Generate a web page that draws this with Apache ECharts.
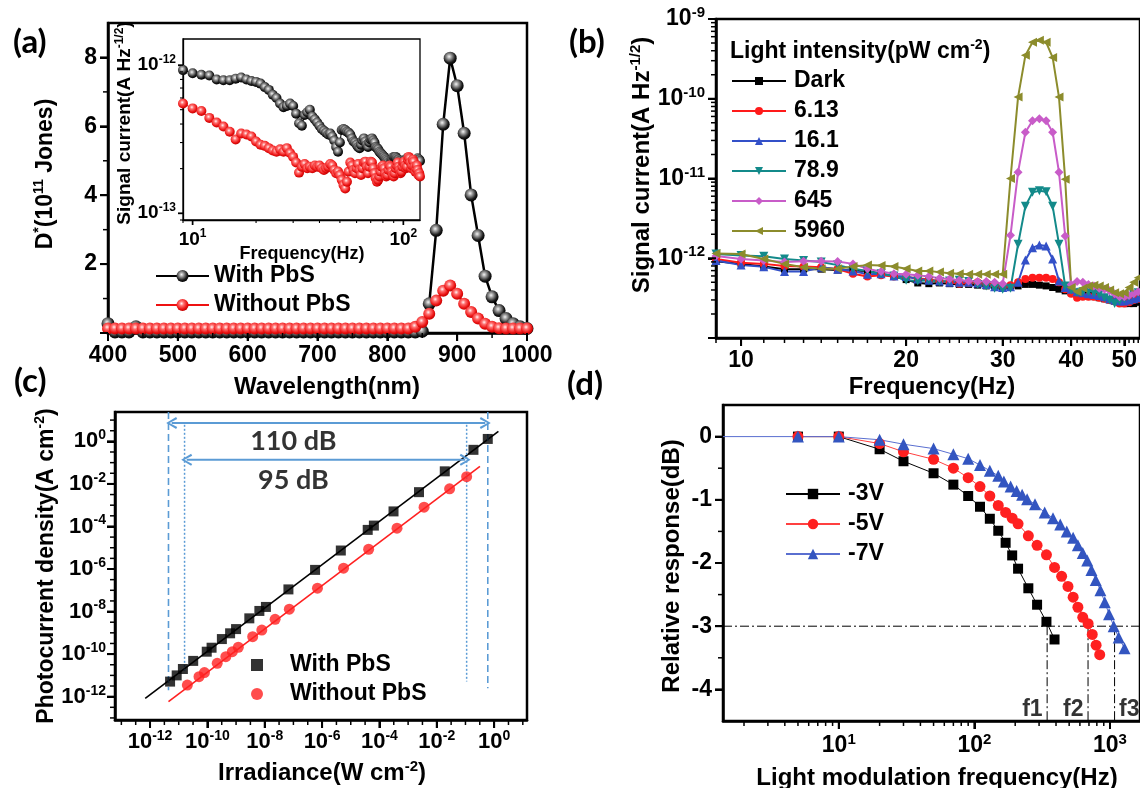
<!DOCTYPE html>
<html>
<head>
<meta charset="utf-8">
<title>PbS photodetector figure</title>
<script src="https://cdn.jsdelivr.net/npm/echarts@6.0.0/dist/echarts.min.js"></script>
<style>
  html, body { margin: 0; padding: 0; background: #fff; }
  #chart-container { position: relative; width: 1140px; height: 788px; background: #fff; }
  .layer { position: absolute; left: 0; top: 0; width: 1140px; height: 788px; }
</style>
</head>
<body>
<div id="chart-container"></div>
<script>
// ---------- (a) detectivity spectra ----------
const wavelength = [
  400, 410, 420, 430, 440, 450, 460, 470, 480, 490,
  500, 510, 520, 530, 540, 550, 560, 570, 580, 590,
  600, 610, 620, 630, 640, 650, 660, 670, 680, 690,
  700, 710, 720, 730, 740, 750, 760, 770, 780, 790,
  800, 810, 820, 830, 840, 850, 860, 870, 880, 890,
  900, 910, 920, 930, 940, 950, 960, 970, 980, 990, 1000
];
// D* in 1e11 Jones
const dWithPbS = [
  0.27, 0.03, 0.03, 0.03, 0.18, 0.03, 0.03, 0.03, 0.03, 0.03,
  0.03, 0.03, 0.03, 0.03, 0.03, 0.03, 0.03, 0.03, 0.03, 0.03,
  0.03, 0.03, 0.03, 0.03, 0.03, 0.03, 0.03, 0.03, 0.03, 0.03,
  0.03, 0.03, 0.03, 0.03, 0.03, 0.03, 0.03, 0.03, 0.03, 0.03,
  0.03, 0.03, 0.03, 0.03, 0.03, 0.05, 0.85, 2.98, 6.06, 7.98,
  7.18, 5.8, 4.01, 2.83, 1.65, 1.05, 0.65, 0.42, 0.27, 0.18, 0.13
];
const dWithoutPbS = [
  0.13, 0.13, 0.13, 0.13, 0.13, 0.13, 0.13, 0.13, 0.13, 0.13,
  0.13, 0.13, 0.13, 0.13, 0.13, 0.13, 0.13, 0.13, 0.13, 0.13,
  0.13, 0.13, 0.13, 0.13, 0.13, 0.13, 0.13, 0.13, 0.13, 0.13,
  0.13, 0.13, 0.13, 0.13, 0.13, 0.13, 0.13, 0.13, 0.13, 0.13,
  0.13, 0.13, 0.13, 0.13, 0.18, 0.32, 0.56, 0.94, 1.23, 1.38,
  1.14, 0.85, 0.61, 0.42, 0.27, 0.18, 0.14, 0.13, 0.13, 0.13, 0.13
];
const aXTicks = [400, 500, 600, 700, 800, 900, 1000];
const aXMinor = [450, 550, 650, 750, 850, 950];
const aYTicks = [0, 2, 4, 6, 8];
const aYLabels = [2, 4, 6, 8];
const aYMinor = [1, 3, 5, 7];

// ---------- (a) inset: noise current ----------
const insetFreq = [
  9, 10, 11, 12, 13, 14, 15, 16, 17, 18, 19, 20,
  21, 22, 23, 24, 25, 26, 27, 28, 29, 30,
  31, 32, 33, 34, 35, 36, 37, 38, 39, 40,
  41, 42, 43, 44, 45, 46, 47, 48, 49, 50,
  51, 52, 53, 54, 55, 56, 57, 58, 59, 60,
  61, 62, 63, 64, 65, 66, 67, 68, 69, 70,
  71, 72, 73, 74, 75, 76, 77, 78, 79, 80,
  81, 82, 83, 84, 85, 86, 87, 88, 89, 90,
  91, 92, 93, 94, 95, 96, 97, 98, 99, 100,
  101, 102, 103, 104, 105, 106, 107, 108, 109, 110,
  111, 112, 113, 114, 115, 116, 117, 118, 119, 120
];
// signal current in 1e-13 A Hz^-1/2
const insetWithPbS = [
  9.25, 8.8, 8.6, 8.5, 8.0, 7.9, 7.9, 8.1, 8.25, 8.0, 7.8, 7.7,
  7.5, 7.1, 6.8, 6.3, 6.0, 5.5, 5.2, 5.3, 5.5, 5.3,
  4.7, 4.05, 3.9, 4.6, 4.8, 5.0, 4.5, 4.3, 4.1, 3.9,
  3.7, 3.6, 3.5, 3.4, 3.45, 3.3, 3.1, 2.8, 2.6, 3.0,
  3.65, 3.7, 3.65, 3.55, 3.5, 3.4, 3.2, 3.05, 3.0, 2.9,
  2.8, 2.75, 2.9, 3.1, 3.2, 3.05, 2.9, 2.8, 3.0, 3.15,
  3.2, 3.1, 3.0, 2.8, 2.75, 2.7, 2.6, 2.55, 2.5, 2.45,
  2.4, 2.35, 2.3, 2.25, 2.2, 2.1, 2.2, 2.3, 2.3, 2.4,
  2.4, 2.4, 2.35, 2.3, 2.3, 2.25, 2.25, 2.2, 2.2, 2.2,
  2.25, 2.3, 2.3, 2.35, 2.3, 2.3, 2.25, 2.25, 2.2, 2.2,
  2.15, 2.1, 2.2, 2.25, 2.3, 2.3, 2.35, 2.3, 2.3, 2.25
];
const insetWithoutPbS = [
  5.5, 5.1, 4.9, 4.4, 4.1, 3.85, 3.55, 3.15, 3.45, 3.4, 3.3, 3.05,
  2.9, 2.85, 2.75, 2.65, 2.6, 2.7, 2.6, 2.75, 2.55, 2.4,
  2.2, 1.88, 2.06, 2.15, 2.01, 2.06, 2.01, 2.1, 2.06, 2.1,
  2.01, 1.96, 2.01, 2.06, 2.15, 2.1, 1.96, 1.86, 1.91, 1.81,
  1.68, 1.55, 1.47, 1.63, 1.91, 2.2, 2.1, 1.96, 1.86, 2.01,
  2.15, 1.96, 1.81, 2.01, 2.2, 2.23, 2.06, 1.86, 2.06, 2.23,
  2.2, 2.01, 1.86, 1.72, 1.63, 1.68, 1.77, 1.91, 2.06, 2.1,
  2.01, 1.86, 1.77, 1.81, 1.96, 2.1, 2.06, 1.91, 1.81, 1.77,
  1.86, 2.01, 2.1, 2.2, 2.06, 1.96, 1.86, 1.91, 2.06, 2.2,
  2.23, 2.1, 2.01, 2.06, 2.3, 2.4, 2.35, 2.2, 2.01, 2.1,
  2.3, 2.23, 2.06, 1.91, 2.01, 2.1, 1.96, 1.81, 1.86, 1.77
];
const insetXTicks = [10, 100];
const insetYTicks = [1e-13, 1e-12];

// ---------- (b) signal current vs frequency ----------
const bFreq = [
  9, 10, 11, 12, 13, 14, 15, 16, 17, 18, 19, 20,
  21, 22, 23, 24, 25, 26, 27, 28, 29, 30,
  31, 32, 33, 34, 35, 36, 37, 38, 39, 40,
  41, 42, 43, 44, 45, 46, 47, 48, 49, 50,
  51, 52, 53, 54, 55
];
// signal current in 1e-12 A Hz^-1/2
const bDark = [
  0.92, 0.85, 0.79, 0.73, 0.73, 0.73, 0.71, 0.70, 0.69, 0.64, 0.59, 0.54,
  0.49, 0.48, 0.49, 0.48, 0.47, 0.47, 0.46, 0.45, 0.45, 0.44,
  0.44, 0.45, 0.47, 0.47, 0.46, 0.45, 0.43, 0.41, 0.39, 0.37,
  0.35, 0.34, 0.34, 0.33, 0.32, 0.31, 0.30, 0.29, 0.28, 0.27,
  0.27, 0.27, 0.28, 0.28, 0.29
];
const b613 = [
  0.98, 0.88, 0.85, 0.80, 0.79, 0.77, 0.73, 0.64, 0.59, 0.61, 0.59, 0.58,
  0.56, 0.54, 0.52, 0.50, 0.48, 0.49, 0.50, 0.49, 0.47, 0.45,
  0.46, 0.50, 0.55, 0.57, 0.57, 0.57, 0.55, 0.50, 0.41, 0.36,
  0.32, 0.33, 0.33, 0.33, 0.32, 0.31, 0.30, 0.29, 0.27, 0.27,
  0.28, 0.30, 0.31, 0.32, 0.33
];
const b161 = [
  0.94, 0.82, 0.78, 0.68, 0.68, 0.77, 0.73, 0.69, 0.63, 0.64, 0.60, 0.59,
  0.55, 0.53, 0.52, 0.50, 0.50, 0.50, 0.49, 0.47, 0.44, 0.43,
  0.44, 0.50, 0.95, 1.35, 1.47, 1.42, 0.98, 0.52, 0.43, 0.41,
  0.38, 0.37, 0.36, 0.35, 0.34, 0.33, 0.31, 0.30, 0.29, 0.29,
  0.30, 0.31, 0.32, 0.33, 0.34
];
const b789 = [
  1.13, 1.08, 1.06, 0.98, 0.94, 0.90, 0.82, 0.74, 0.69, 0.64, 0.60, 0.53,
  0.52, 0.53, 0.51, 0.52, 0.53, 0.51, 0.47, 0.45, 0.42, 0.41,
  0.42, 1.5, 4.5, 6.7, 7.0, 6.8, 4.5, 1.5, 0.45, 0.40,
  0.37, 0.38, 0.38, 0.37, 0.35, 0.32, 0.30, 0.27, 0.29, 0.31,
  0.33, 0.35, 0.37, 0.38, 0.39
];
const b645 = [
  1.07, 0.98, 0.94, 0.90, 0.92, 0.92, 0.91, 0.85, 0.74, 0.68, 0.64, 0.63,
  0.61, 0.59, 0.56, 0.55, 0.53, 0.52, 0.51, 0.51, 0.50, 0.48,
  1.94, 12, 38, 53, 56, 53, 38, 12, 1.9, 0.47,
  0.51, 0.50, 0.47, 0.45, 0.42, 0.41, 0.39, 0.36, 0.33, 0.33,
  0.34, 0.36, 0.38, 0.40, 0.42
];
const b5960 = [
  1.15, 1.13, 0.98, 0.85, 0.77, 0.74, 0.74, 0.79, 0.82, 0.81, 0.79, 0.74,
  0.69, 0.69, 0.67, 0.65, 0.64, 0.63, 0.63, 0.63, 0.63, 0.63,
  10, 105, 350, 510, 540, 510, 330, 105, 9.8, 0.43,
  0.38, 0.42, 0.45, 0.46, 0.45, 0.43, 0.40, 0.37, 0.36, 0.37,
  0.43, 0.50, 0.57, 0.63, 0.68
];
const bNames = ['Dark', '6.13', '16.1', '78.9', '645', '5960'];
const bXTicks = [10, 20, 30, 40, 50];
const bYTicks = [1e-13, 1e-12, 1e-11, 1e-10, 1e-9];
const bYLabels = [1e-12, 1e-11, 1e-10, 1e-9];

// ---------- (c) photocurrent density vs irradiance ----------
const cWithIrr = [5e-12, 8.5e-12, 1.4e-11, 3.2e-11, 9.5e-11, 1.4e-10, 3.2e-10, 6.2e-10, 1e-9, 2.9e-9, 6.5e-9,
  1.1e-8, 6.7e-8, 5.7e-7, 4.5e-6, 3.9e-5, 6.4e-5, 3.1e-4, 2.4e-3, 0.019, 0.19, 0.6];
const cWithJ = [5.1e-12, 1.0e-11, 2.0e-11, 4.8e-11, 1.3e-10, 2.0e-10, 5.1e-10, 9.5e-10, 1.5e-9, 4.8e-9, 1.07e-8,
  1.65e-8, 1.1e-7, 9.1e-7, 7.4e-6, 6.9e-5, 1.1e-4, 5.1e-4, 4.1e-3, 0.039, 0.40, 1.3];
const cWithoutIrr = [2.0e-11, 5.1e-11, 7.9e-11, 2.2e-10, 4.4e-10, 7.4e-10, 1.2e-9, 3.8e-9, 7.9e-9, 2.3e-8,
  7.2e-8, 6.9e-7, 5.6e-6, 4.2e-5, 4.1e-4, 3.6e-3, 0.028, 0.11];
const cWithoutJ = [3.5e-12, 8.7e-12, 1.35e-11, 3.7e-11, 7.6e-11, 1.3e-10, 2.1e-10, 6.6e-10, 1.35e-9, 4.3e-9,
  1.3e-8, 1.25e-7, 1.1e-6, 8.5e-6, 8.3e-5, 8.1e-4, 5.9e-3, 0.022];
const cFitWithIrr = [6.8e-13, 1.41];
const cFitWithJ = [8.3e-13, 2.95];
const cFitWithoutIrr = [4.4e-12, 0.32];
const cFitWithoutJ = [5.8e-13, 0.066];
// dynamic range markers: [irradiance, top J, bottom J]
const cDashed = [[4.4e-12, 24, 2.0e-12], [0.6, 24, 2.5e-12]];
const cDotted = [[1.6e-11, 6, 1.5e-11], [0.11, 6, 5.2e-12]];
// arrows: [left irradiance, right irradiance, J level]
const cArrows = [[5.7e-12, 0.49, 7.3], [1.9e-11, 0.098, 0.136]];
const cRangeText = [['110 dB', 1e-7, 1.0], ['95 dB', 1e-7, 0.0155]];
const cTicks = [1e-12, 1e-10, 1e-8, 1e-6, 1e-4, 1e-2, 1];

// ---------- (d) frequency response ----------
const d3VFreq = [5, 10, 20, 30, 50, 70, 90, 110, 130, 150, 170, 190, 210, 250, 290, 340, 390];
const d3VResp = [0, 0, -0.2, -0.39, -0.58, -0.76, -0.94, -1.11, -1.30, -1.49, -1.68, -1.88, -2.09, -2.40, -2.66, -2.93, -3.21];
const d5VFreq = [5, 10, 20, 30, 50, 70, 90, 110, 130, 150, 170, 190, 210, 250, 290, 340, 390, 440, 490, 535, 580,
  630, 690, 740, 790, 840];
const d5VResp = [0, 0, -0.11, -0.24, -0.36, -0.50, -0.65, -0.79, -0.94, -1.09, -1.20, -1.29, -1.38, -1.57, -1.72,
  -1.87, -2.07, -2.21, -2.37, -2.54, -2.70, -2.86, -2.96, -3.13, -3.30, -3.45];
const d7VFreq = [5, 10, 20, 30, 50, 70, 90, 110, 130, 150, 165, 185, 205, 225, 245, 280, 330, 380, 430, 480, 535,
  580, 630, 680, 730, 785, 850, 915, 985, 1065, 1160, 1280];
const d7VResp = [0, 0, -0.05, -0.12, -0.19, -0.28, -0.35, -0.45, -0.54, -0.62, -0.71, -0.79, -0.86, -0.92, -0.99,
  -1.07, -1.20, -1.29, -1.39, -1.50, -1.60, -1.72, -1.84, -1.96, -2.11, -2.27, -2.43, -2.62, -2.81, -3.0, -3.18, -3.35];
const dBaseFreq = [1.4, 5];
const dBaseResp = [0, 0];
const dCutLevel = -3;
const dCutFreq = [344, 689, 1081];
const dCutName = ['f1', 'f2', 'f3'];
const dXTicks = [10, 100, 1000];
const dYTicks = [-4, -3, -2, -1, 0];
const dYMinor = [-3.5, -2.5, -1.5, -0.5];

// ---------- helpers ----------
const FONT = '"Liberation Sans", Arial, Helvetica, sans-serif';
const NARROW = '"Liberation Sans Narrow", "Liberation Sans", Arial, sans-serif';
const CAL = 'Lato, "Open Sans", sans-serif';
const BLUE = '#5b9bd5';

function pairs(xs, ys, k) {
  return xs.map((x, i) => [x, ys[i] * (k || 1)]);
}
function logMinor(e0, e1) {
  const out = [];
  for (let e = e0; e < e1; e++) for (let k = 2; k < 10; k++) out.push(+(k + 'e' + e));
  return out;
}
function powLabel(v) {
  return '{b|10}{s|' + Math.round(Math.log10(v)) + '}';
}
function tickRich(size) {
  return {
    b: { fontSize: size, fontWeight: 'bold', fontFamily: FONT, color: '#000', lineHeight: size + 4 },
    s: { fontSize: Math.round(size * 0.64), fontWeight: 'bold', fontFamily: FONT, color: '#000',
         lineHeight: Math.round(size * 0.5), verticalAlign: 'top' }
  };
}
function titleRich(size) {
  return {
    t: { fontSize: size, fontWeight: 'bold', fontFamily: FONT, fill: '#000', lineHeight: size + 4 },
    s: { fontSize: Math.round(size * 0.62), fontWeight: 'bold', fontFamily: FONT, fill: '#000',
         lineHeight: Math.round(size * 0.5), verticalAlign: 'top' }
  };
}
function plain(extra) {
  return Object.assign({ silent: true, emphasis: { disabled: true }, animation: false }, extra);
}

// every panel is drawn by its own chart instance; the four canvases are stacked on the page
function newPanel() {
  return { grid: [], xAxis: [], yAxis: [], series: [], ticks: [], legend: [], graphic: [] };
}
const pA = newPanel(), pB = newPanel(), pC = newPanel(), pD = newPanel();

function addGrid(P, g, bw) {
  P.grid.push(Object.assign({ show: true, borderColor: '#000', borderWidth: bw,
    outerBoundsMode: 'none', containLabel: false }, g));
  return P.grid.length - 1;
}
// axis carrying the frame line, the major ticks and the numeric labels
function axis(P, key, grid, scale, o) {
  P[key].push(Object.assign({
    gridIndex: grid, position: key === 'xAxis' ? 'bottom' : 'left',
    splitLine: { show: false },
    axisLine: { show: true, onZero: false, lineStyle: { color: '#000', width: o.lw || 2.5 } },
    axisTick: { show: true, inside: false, length: o.len || 8, customValues: o.ticks,
                lineStyle: { color: '#000', width: o.tw || 2 } },
    axisLabel: {
      show: true, customValues: o.labels, margin: o.margin, formatter: o.fmt || (v => String(v)), rich: o.rich,
      fontSize: o.fs, fontWeight: 'bold', fontFamily: FONT, color: '#000'
    }
  }, scale));
  return P[key].length - 1;
}
// outward tick marks (major and minor), placed through the axes' own coordinate mapping
function tickMarks(P, xi, yi, sx, sy, dim, values, len, w) {
  const sc = dim === 'x' ? sx : sy;
  const inside = values.filter(v => v >= sc.min && v <= sc.max);
  P.ticks.push(plain({
    type: 'custom', xAxisIndex: xi, yAxisIndex: yi, clip: false, z: 10,
    data: inside.map(v => (dim === 'x' ? [v, sy.min] : [sx.min, v])),
    renderItem: (params, api) => {
      const p = api.coord([api.value(0), api.value(1)]);
      const shape = dim === 'x'
        ? { x1: p[0], y1: p[1], x2: p[0], y2: p[1] + len }
        : { x1: p[0], y1: p[1], x2: p[0] - len, y2: p[1] };
      return { type: 'line', shape: shape, style: { stroke: '#000', lineWidth: w } };
    }
  }));
}
function txt(x, y, text, size, rot, align, font) {
  return {
    type: 'text', x: x, y: y, rotation: rot ? Math.PI / 2 : 0, z: 100, silent: true,
    style: {
      text: text, rich: titleRich(size), fill: '#000',
      font: 'bold ' + size + 'px ' + (font || FONT),
      align: align || 'center', verticalAlign: 'middle'
    }
  };
}
const legendText = { fontSize: 23, fontWeight: 'bold', fontFamily: FONT, color: '#000', lineHeight: 24 };
function legend(extra) {
  return Object.assign({ orient: 'vertical', selectedMode: false, padding: 0, textStyle: legendText }, extra);
}

const ballBlack = new echarts.graphic.RadialGradient(0.42, 0.38, 0.62, [
  { offset: 0, color: '#f4f4f4' }, { offset: 0.3, color: '#9a9a9a' },
  { offset: 0.75, color: '#1c1c1c' }, { offset: 1, color: '#000' }
]);
const ballRed = new echarts.graphic.RadialGradient(0.42, 0.38, 0.62, [
  { offset: 0, color: '#fff4f4' }, { offset: 0.3, color: '#ff7070' },
  { offset: 0.75, color: '#ec1414' }, { offset: 1, color: '#c40000' }
]);

// ================= panel (a) =================
const gA = addGrid(pA, { left: 108, top: 23, width: 419, height: 310 }, 2.5);
const gI = addGrid(pA, { left: 183, top: 39, width: 237, height: 181 }, 1.3);
const aScaleX = { type: 'value', min: 400, max: 1000 };
const aScaleY = { type: 'value', min: 0, max: 9 };
const ax = axis(pA, 'xAxis', gA, aScaleX, { ticks: aXTicks, labels: aXTicks, margin: 11, fs: 23 });
const ay = axis(pA, 'yAxis', gA, aScaleY, { ticks: aYTicks, labels: aYLabels, margin: 11, fs: 23 });
tickMarks(pA, ax, ay, aScaleX, aScaleY, 'x', aXTicks, 8, 2);
tickMarks(pA, ax, ay, aScaleX, aScaleY, 'x', aXMinor, 5, 1.5);
tickMarks(pA, ax, ay, aScaleX, aScaleY, 'y', aYTicks, 8, 2);
tickMarks(pA, ax, ay, aScaleX, aScaleY, 'y', aYMinor, 5, 1.5);

const iScaleX = { type: 'log', logBase: 10, min: 9, max: 120 };
const iScaleY = { type: 'log', logBase: 10, min: 9e-14, max: 1.5e-12 };
const ix = axis(pA, 'xAxis', gI, iScaleX, { lw: 1.3, tw: 1.4, len: 5, ticks: insetXTicks, labels: insetXTicks,
  margin: 8, fmt: powLabel, rich: tickRich(19) });
const iy = axis(pA, 'yAxis', gI, iScaleY, { lw: 1.3, tw: 1.4, len: 5, ticks: insetYTicks, labels: insetYTicks,
  margin: 7, fmt: powLabel, rich: tickRich(19) });
tickMarks(pA, ix, iy, iScaleX, iScaleY, 'x', insetXTicks, 5, 1.4);
tickMarks(pA, ix, iy, iScaleX, iScaleY, 'x', logMinor(0, 3), 3, 1.1);
tickMarks(pA, ix, iy, iScaleX, iScaleY, 'y', insetYTicks, 5, 1.4);
tickMarks(pA, ix, iy, iScaleX, iScaleY, 'y', logMinor(-14, -12), 3, 1.1);

pA.series.push(plain({
  name: 'With PbS', type: 'line', xAxisIndex: ax, yAxisIndex: ay,
  data: pairs(wavelength, dWithPbS), symbol: 'circle', symbolSize: 13,
  itemStyle: { color: ballBlack }, lineStyle: { color: '#000', width: 2.5 }
}));
pA.series.push(plain({
  name: 'Without PbS', type: 'line', xAxisIndex: ax, yAxisIndex: ay,
  data: pairs(wavelength, dWithoutPbS), symbol: 'circle', symbolSize: 12,
  itemStyle: { color: ballRed }, lineStyle: { color: '#ee1111', width: 2.5 }
}));
pA.series.push(plain({
  name: 'inset with', type: 'line', xAxisIndex: ix, yAxisIndex: iy,
  data: pairs(insetFreq, insetWithPbS, 1e-13), symbol: 'circle', symbolSize: 10,
  itemStyle: { color: ballBlack }, lineStyle: { color: '#000', width: 1 }
}));
pA.series.push(plain({
  name: 'inset without', type: 'line', xAxisIndex: ix, yAxisIndex: iy,
  data: pairs(insetFreq, insetWithoutPbS, 1e-13), symbol: 'circle', symbolSize: 10,
  itemStyle: { color: ballRed }, lineStyle: { color: '#ee1111', width: 1 }
}));
pA.legend.push(legend({ data: ['With PbS', 'Without PbS'], left: 155, top: 264,
  itemWidth: 53, itemHeight: 15, itemGap: 5 }));
pA.graphic.push(
  txt(13, 42, '(a)', 33, false, 'left', CAL),
  txt(46, 174, '{t|D}{s|*}{t|(10}{s|11}{t| Jones)}', 23, true),
  txt(327, 387, '{t|Wavelength(nm)}', 24),
  txt(125, 123, '{t|Signal current(A Hz}{s|-1/2}{t|)}', 19, true),
  txt(302, 254, '{t|Frequency(Hz)}', 18)
);

// ================= panel (b) =================
const gB = addGrid(pB, { left: 716, top: 19, width: 424, height: 319 }, 2.5);
const bScaleX = { type: 'log', logBase: 10, min: 9, max: 53.4 };
const bScaleY = { type: 'log', logBase: 10, min: 1e-13, max: 1e-9 };
const bMinorX = bFreq.filter(f => f % 10 !== 0);
const bx = axis(pB, 'xAxis', gB, bScaleX, { ticks: bXTicks, labels: bXTicks, margin: 11, fs: 23,
  fmt: v => String(Math.round(v)) });
const by = axis(pB, 'yAxis', gB, bScaleY, { ticks: bYTicks, labels: bYLabels, margin: 11, fmt: powLabel,
  rich: tickRich(23) });
tickMarks(pB, bx, by, bScaleX, bScaleY, 'x', bXTicks, 8, 2);
tickMarks(pB, bx, by, bScaleX, bScaleY, 'x', bMinorX, 5, 1.5);
tickMarks(pB, bx, by, bScaleX, bScaleY, 'y', bYTicks, 8, 2);
tickMarks(pB, bx, by, bScaleX, bScaleY, 'y', logMinor(-13, -9), 5, 1.5);

const bData = [bDark, b613, b161, b789, b645, b5960];
const bColors = ['#000000', '#ff1a1a', '#3350c8', '#138a8a', '#c85cc8', '#8c8c2c'];
const bSymbols = ['rect', 'circle', 'triangle', 'triangle', 'diamond', 'triangle'];
const bRotate = [0, 0, 0, 180, 0, 90];
const bSizes = [7, 8, 9, 9, 9, 9];
bData.forEach((vals, i) => {
  pB.series.push(plain({
    name: bNames[i], type: 'line', xAxisIndex: bx, yAxisIndex: by,
    data: pairs(bFreq, vals, 1e-12), symbol: bSymbols[i], symbolRotate: bRotate[i], symbolSize: bSizes[i],
    itemStyle: { color: bColors[i] }, lineStyle: { color: bColors[i], width: 2 }
  }));
});
pB.legend.push(legend({ data: bNames, left: 731, top: 69, itemWidth: 54, itemHeight: 10, itemGap: 6,
  textStyle: Object.assign({ padding: [0, 0, 0, 3] }, legendText) }));
pB.graphic.push(
  txt(569, 42, '(b)', 33, false, 'left', CAL),
  txt(642, 165, '{t|Signal current(A Hz}{s|-1/2}{t|)}', 24, true),
  txt(932, 387, '{t|Frequency(Hz)}', 24),
  txt(730, 52, '{t|Light intensity(pW cm}{s|-2}{t|)}', 23, false, 'left')
);

// ================= panel (c) =================
const gC = addGrid(pC, { left: 115, top: 412, width: 412, height: 308 }, 2.5);
const cScaleX = { type: 'log', logBase: 10, min: 6e-14, max: 14 };
const cScaleY = { type: 'log', logBase: 10, min: 8e-14, max: 24 };
const cMinor = [];
for (let e = -13; e <= 1; e++) {
  if (e % 2 !== 0) cMinor.push(+('1e' + e));
  cMinor.push(Math.pow(10, e + 0.5));
}
const cx = axis(pC, 'xAxis', gC, cScaleX, { ticks: cTicks, labels: cTicks, margin: 9, fmt: powLabel,
  rich: tickRich(22) });
const cy = axis(pC, 'yAxis', gC, cScaleY, { ticks: cTicks, labels: cTicks, margin: 9, fmt: powLabel,
  rich: tickRich(22) });
tickMarks(pC, cx, cy, cScaleX, cScaleY, 'x', cTicks, 8, 2);
tickMarks(pC, cx, cy, cScaleX, cScaleY, 'x', cMinor, 5, 1.5);
tickMarks(pC, cx, cy, cScaleX, cScaleY, 'y', cTicks, 8, 2);
tickMarks(pC, cx, cy, cScaleX, cScaleY, 'y', cMinor, 5, 1.5);

pC.series.push(plain({
  type: 'line', xAxisIndex: cx, yAxisIndex: cy, data: pairs(cFitWithIrr, cFitWithJ),
  showSymbol: false, symbol: 'none', lineStyle: { color: '#000', width: 1.6 }
}));
pC.series.push(plain({
  type: 'line', xAxisIndex: cx, yAxisIndex: cy, data: pairs(cFitWithoutIrr, cFitWithoutJ),
  showSymbol: false, symbol: 'none', lineStyle: { color: '#ff2020', width: 1.6 }
}));
pC.series.push(plain({
  name: 'With PbS', type: 'scatter', xAxisIndex: cx, yAxisIndex: cy,
  data: pairs(cWithIrr, cWithJ), symbol: 'rect', symbolSize: 10, itemStyle: { color: '#000' }, z: 4
}));
pC.series.push(plain({
  name: 'Without PbS', type: 'scatter', xAxisIndex: cx, yAxisIndex: cy,
  data: pairs(cWithoutIrr, cWithoutJ), symbol: 'circle', symbolSize: 11, itemStyle: { color: '#ff2020' }, z: 4
}));
cDashed.forEach(d => pC.series.push(plain({
  type: 'line', xAxisIndex: cx, yAxisIndex: cy, data: [[d[0], d[1]], [d[0], d[2]]], symbol: 'none',
  lineStyle: { color: BLUE, width: 1.6, type: [7, 4] }
})));
cDotted.forEach(d => pC.series.push(plain({
  type: 'line', xAxisIndex: cx, yAxisIndex: cy, data: [[d[0], d[1]], [d[0], d[2]]], symbol: 'none',
  lineStyle: { color: BLUE, width: 1.5, type: [2, 2] }
})));
const chevron = 'path://M0,5 L9,0 L10,1.6 L3,5 L10,8.4 L9,10 Z';
cArrows.forEach(a => pC.series.push(plain({
  type: 'line', xAxisIndex: cx, yAxisIndex: cy,
  data: [{ value: [a[0], a[2]], symbolRotate: 0 }, { value: [a[1], a[2]], symbolRotate: 180 }],
  symbol: chevron, symbolSize: [11, 12], showSymbol: true,
  itemStyle: { color: BLUE }, lineStyle: { color: BLUE, width: 2 }
})));
pC.series.push(plain({
  type: 'scatter', xAxisIndex: cx, yAxisIndex: cy, symbolSize: 1, itemStyle: { color: 'rgba(0,0,0,0)' },
  data: cRangeText.map(t => ({ name: t[0], value: [t[1], t[2]] })),
  label: { show: true, position: 'inside', formatter: '{b}', fontFamily: CAL, fontWeight: 'bold',
           fontSize: 27, color: '#000' }
}));
pC.legend.push(legend({ data: ['With PbS', 'Without PbS'], left: 251, top: 653,
  itemWidth: 12, itemHeight: 12, itemGap: 5,
  textStyle: Object.assign({ padding: [0, 0, 0, 22] }, legendText) }));
pC.graphic.push(
  txt(14, 381, '(c)', 33, false, 'left', CAL),
  txt(47, 566, '{t|Photocurrent density(A cm}{s|-2}{t|)}', 23, true),
  txt(322, 773, '{t|Irradiance(W cm}{s|-2}{t|)}', 24)
);

// ================= panel (d) =================
const gD = addGrid(pD, { left: 723, top: 405, width: 417, height: 316 }, 2.5);
const dScaleX = { type: 'log', logBase: 10, min: 1.4, max: 1665 };
const dScaleY = { type: 'value', min: -4.5, max: 0.5 };
const dx = axis(pD, 'xAxis', gD, dScaleX, { ticks: dXTicks, labels: dXTicks, margin: 11, fmt: powLabel,
  rich: tickRich(23) });
const dy = axis(pD, 'yAxis', gD, dScaleY, { ticks: dYTicks, labels: dYTicks, margin: 11, fs: 23 });
tickMarks(pD, dx, dy, dScaleX, dScaleY, 'x', dXTicks, 8, 2);
tickMarks(pD, dx, dy, dScaleX, dScaleY, 'x', logMinor(0, 4), 5, 1.5);
tickMarks(pD, dx, dy, dScaleX, dScaleY, 'y', dYTicks, 8, 2);
tickMarks(pD, dx, dy, dScaleX, dScaleY, 'y', dYMinor, 5, 1.5);

pD.series.push(plain({
  type: 'line', xAxisIndex: dx, yAxisIndex: dy, data: pairs(dBaseFreq, dBaseResp), symbol: 'none',
  lineStyle: { color: '#5a6fd0', width: 1 }
}));
const dash = [9, 3, 2, 3];
pD.series.push(plain({
  type: 'line', xAxisIndex: dx, yAxisIndex: dy,
  data: [[dScaleX.min, dCutLevel], [dScaleX.max, dCutLevel]], symbol: 'none',
  lineStyle: { color: '#000', width: 1, type: dash }
}));
dCutFreq.forEach(f => pD.series.push(plain({
  type: 'line', xAxisIndex: dx, yAxisIndex: dy, data: [[f, dCutLevel], [f, dScaleY.min]], symbol: 'none',
  lineStyle: { color: '#000', width: 1, type: dash }
})));
pD.series.push(plain({
  name: '-3V', type: 'line', xAxisIndex: dx, yAxisIndex: dy, data: pairs(d3VFreq, d3VResp),
  symbol: 'rect', symbolSize: 10, itemStyle: { color: '#000' }, lineStyle: { color: '#000', width: 1 }
}));
pD.series.push(plain({
  name: '-5V', type: 'line', xAxisIndex: dx, yAxisIndex: dy, data: pairs(d5VFreq, d5VResp),
  symbol: 'circle', symbolSize: 11, itemStyle: { color: '#ff2020' }, lineStyle: { color: '#ff4040', width: 1 }
}));
pD.series.push(plain({
  name: '-7V', type: 'line', xAxisIndex: dx, yAxisIndex: dy, data: pairs(d7VFreq, d7VResp),
  symbol: 'triangle', symbolSize: 12, itemStyle: { color: '#3355c0' }, lineStyle: { color: '#5a6fd0', width: 1 }
}));
pD.series.push(plain({
  type: 'scatter', xAxisIndex: dx, yAxisIndex: dy, symbolSize: 1, itemStyle: { color: 'rgba(0,0,0,0)' },
  data: dCutFreq.map((f, i) => ({
    name: dCutName[i], value: [f, -4.32],
    label: { position: i < 2 ? 'left' : 'right', distance: 4 }
  })),
  label: { show: true, formatter: '{b}', fontFamily: NARROW, fontWeight: 'bold', fontSize: 23, color: '#000' }
}));
pD.legend.push(legend({ data: ['-3V', '-5V', '-7V'], left: 785, top: 482, itemWidth: 54, itemHeight: 13,
  itemGap: 6, textStyle: Object.assign({ padding: [0, 0, 0, 3] }, legendText) }));
pD.graphic.push(
  txt(567, 384, '(d)', 33, false, 'left', CAL),
  txt(672, 566, '{t|Relative response(dB)}', 24, true),
  txt(937, 778, '{t|Light modulation frequency(Hz)}', 24)
);

// ---------- render ----------
const container = document.getElementById('chart-container');
const charts = [pA, pB, pC, pD].map(P => {
  const layer = document.createElement('div');
  layer.className = 'layer';
  container.appendChild(layer);
  const chart = echarts.init(layer, null, { renderer: 'canvas' });
  chart.setOption({
    animation: false,
    backgroundColor: 'transparent',
    grid: P.grid,
    xAxis: P.xAxis,
    yAxis: P.yAxis,
    legend: P.legend,
    series: P.series.concat(P.ticks),
    graphic: P.graphic
  });
  return chart;
});
window.addEventListener('resize', () => charts.forEach(c => c.resize()));
</script>
</body>
</html>
